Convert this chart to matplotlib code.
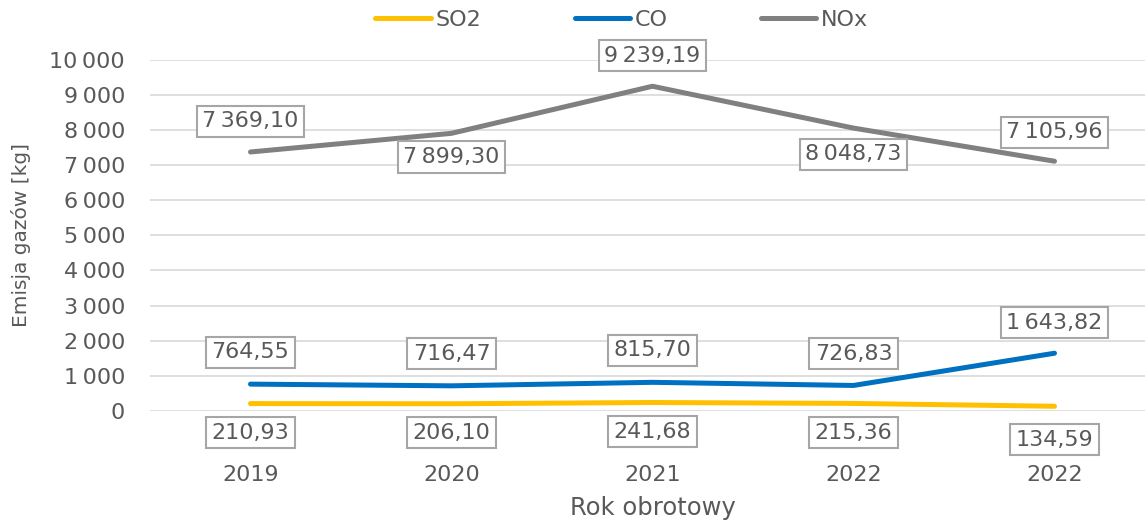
import matplotlib.pyplot as plt
from matplotlib.ticker import FuncFormatter

plt.rcParams['font.family'] = ['DejaVu Sans']

years = ['2019', '2020', '2021', '2022', '2022']
so2 = [210.93, 206.10, 241.68, 215.36, 134.59]
co = [764.55, 716.47, 815.70, 726.83, 1643.82]
nox = [7369.10, 7899.30, 9239.19, 8048.73, 7105.96]

# data label offsets in points (positive = above the point)
so2_dy = [-21, -21, -21, -21, -24]
co_dy = [23, 23, 23, 23, 22]
nox_dy = [22, -17, 22, -19, 21]

text_col = '#595959'

fig = plt.figure(figsize=(11.45, 5.27), dpi=100)
ax = fig.add_axes([150 / 1145, 1 - 411 / 527, 1005 / 1145, 351.5 / 527])

x = range(len(years))
series = [('SO2', so2, '#FFC000', so2_dy),
          ('CO', co, '#0070C0', co_dy),
          ('NOx', nox, '#808080', nox_dy)]

for name, vals, col, offs in series:
    ax.plot(x, vals, color=col, lw=3.6, solid_capstyle='round', label=name)
    for xi, v, dy in zip(x, vals, offs):
        txt = f'{v:,.2f}'.replace(',', '\u2009').replace('.', ',')
        ax.annotate(txt, (xi, v), xytext=(0, dy), textcoords='offset points',
                    ha='center', va='center', fontsize=16, color=text_col,
                    bbox=dict(boxstyle='square,pad=0.25', fc='white', ec='#a6a6a6', lw=1.5))

ax.set_xlim(-0.5, len(years) - 0.5)
ax.set_ylim(0, 10000)
ax.set_yticks(range(0, 10001, 1000))
ax.yaxis.set_major_formatter(FuncFormatter(lambda v, p: f'{int(v):,}'.replace(',', '\u2009')))
ax.set_xticks(list(x))
ax.set_xticklabels(years)
ax.grid(axis='y', color='#d9d9d9', lw=1.2)
ax.set_axisbelow(True)
for sp in ax.spines.values():
    sp.set_visible(False)
ax.tick_params(length=0, labelsize=16, colors=text_col)
ax.tick_params(axis='x', pad=39)
ax.tick_params(axis='y', pad=18)

ax.set_xlabel('Rok obrotowy', fontsize=17.5, color=text_col, labelpad=8)
ax.set_ylabel('Emisja gazów [kg]', fontsize=14.5, color=text_col, labelpad=13)

fig.legend(loc='center', bbox_to_anchor=(0.543, 1 - 20 / 527), ncol=3, frameon=False,
           fontsize=16, handlelength=2.5, handletextpad=0.2, columnspacing=4.2,
           labelcolor=text_col)

fig.savefig('out.png', dpi=100)
